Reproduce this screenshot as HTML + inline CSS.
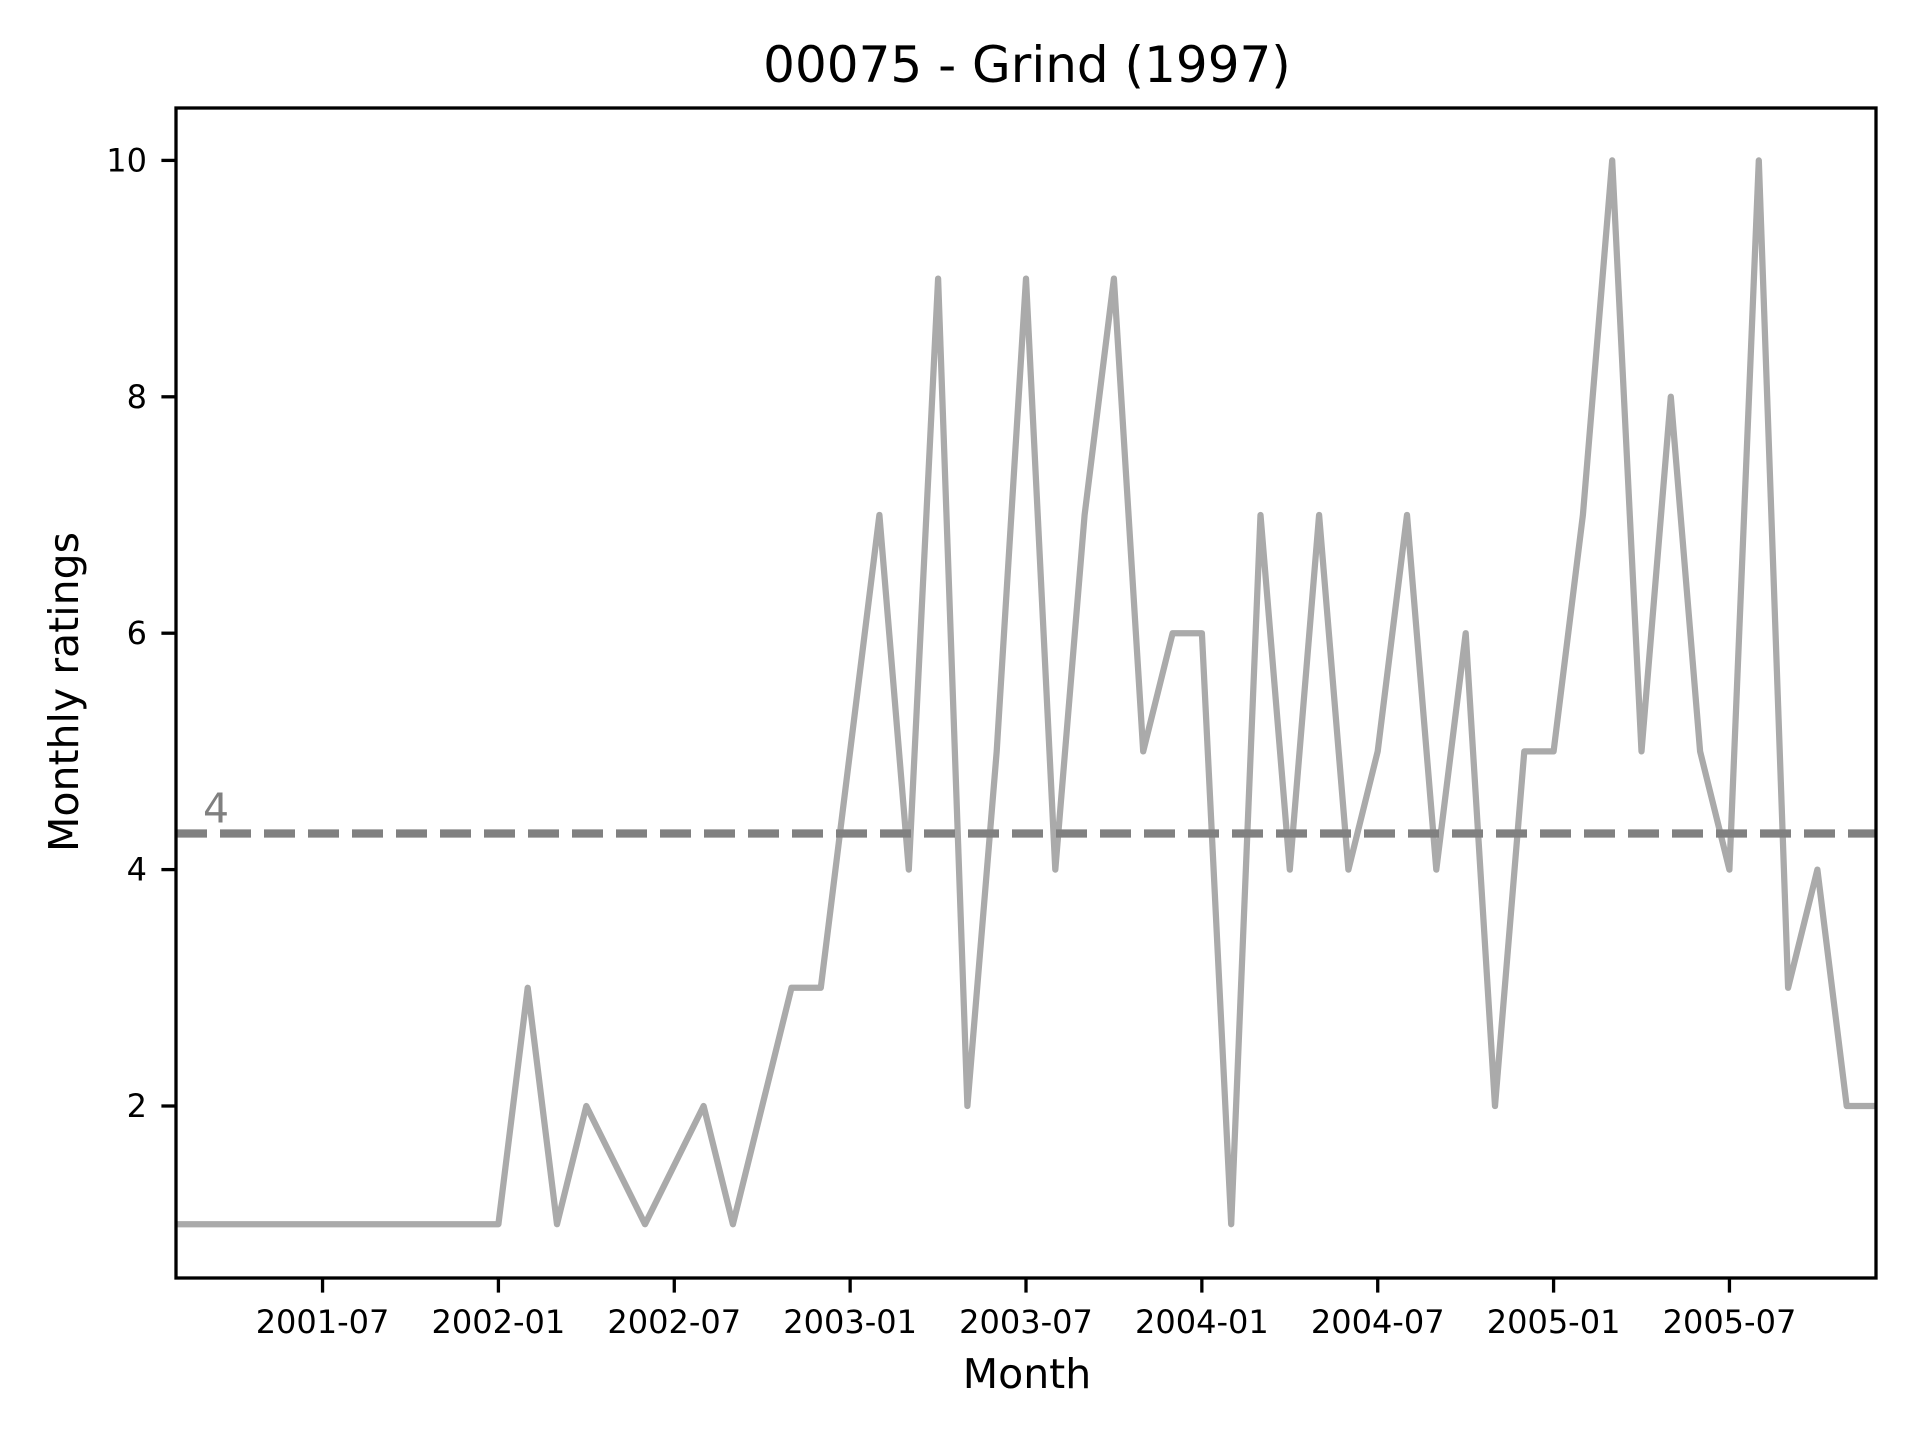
<!DOCTYPE html>
<html><head><meta charset="utf-8"><style>
html,body{margin:0;padding:0;background:#fff;}
svg{display:block;font-family:"DejaVu Sans","Liberation Sans",sans-serif;}
</style></head><body>
<svg id="chart" width="1920" height="1440" viewBox="0 0 1920 1440" xmlns="http://www.w3.org/2000/svg">
<rect width="1920" height="1440" fill="#fff"/>
<text x="1027" y="82" font-size="50" text-anchor="middle">00075 - Grind (1997)</text>
<g id="plot"></g>
<text x="1027" y="1388" font-size="41" text-anchor="middle">Month</text>
<text transform="translate(78,692) rotate(-90)" font-size="41" text-anchor="middle">Monthly ratings</text>
</svg>
<script>
// month index from 2001-02 (0)
const months = [0,2,4,7,9,11,12,13,14,16,18,19,20,21,22,24,25,26,27,28,29,30,31,32,33,34,35,36,37,38,39,40,41,42,43,44,45,46,47,48,49,50,51,52,53,54,55,56,57,58];
const ratings = [1,1,1,1,1,1,3,1,2,1,2,1,2,3,3,7,4,9,2,5,9,4,7,9,5,6,6,1,7,4,7,4,5,7,4,6,2,5,5,7,10,5,8,5,4,10,3,4,2,2];
const xTickMonths = [5,11,17,23,29,35,41,47,53];
const xTickLabels = ["2001-07","2002-01","2002-07","2003-01","2003-07","2004-01","2004-07","2005-01","2005-07"];
const yTicks = [2,4,6,8,10];

const NS="http://www.w3.org/2000/svg";
const L=176,R=1876,T=108,B=1278;
const xMin=0,xMax=58;
function xs(m){return L+(m-xMin)/(xMax-xMin)*(R-L);}
function ys(v){return 1106-(v-2)*118.2;}
const plot=document.getElementById('plot');
function mk(tag,attrs){const e=document.createElementNS(NS,tag);for(const k in attrs)e.setAttribute(k,attrs[k]);plot.appendChild(e);return e;}

const pts=months.map((m,i)=>xs(m).toFixed(1)+','+ys(ratings[i]).toFixed(1)).join(' ');
const line=mk('polyline',{points:pts,fill:'none',stroke:'#aaaaaa','stroke-width':6.25,'stroke-linejoin':'round'});



const mean=ratings.reduce((a,b)=>a+b,0)/ratings.length;
const ml=mk('line',{x1:L,x2:R,y1:ys(mean)-3,y2:ys(mean)-3,stroke:'#808080','stroke-width':8.3,'stroke-dasharray':'31 13'});


const mt=mk('text',{x:203,y:ys(mean)-14,'font-size':41,fill:'#808080'});
mt.textContent=Math.round(mean);



const frame=mk('rect',{x:L,y:T,width:R-L,height:B-T,fill:'none',stroke:'#000','stroke-width':3.3});



xTickMonths.forEach((m,i)=>{
  const t=mk('line',{x1:xs(m),x2:xs(m),y1:B,y2:B+14.6,stroke:'#000','stroke-width':3.3});
  
  
  const tl=mk('text',{x:xs(m),y:1333,'font-size':32,'text-anchor':'middle'});
  tl.textContent=xTickLabels[i];
  
  
});
yTicks.forEach(v=>{
  const t=mk('line',{x1:L-14.6,x2:L,y1:ys(v),y2:ys(v),stroke:'#000','stroke-width':3.3});
  
  
  const tl=mk('text',{x:147,y:ys(v)+11,'font-size':32,'text-anchor':'end'});
  tl.textContent=v;
  
  
});
</script>
</body></html>
